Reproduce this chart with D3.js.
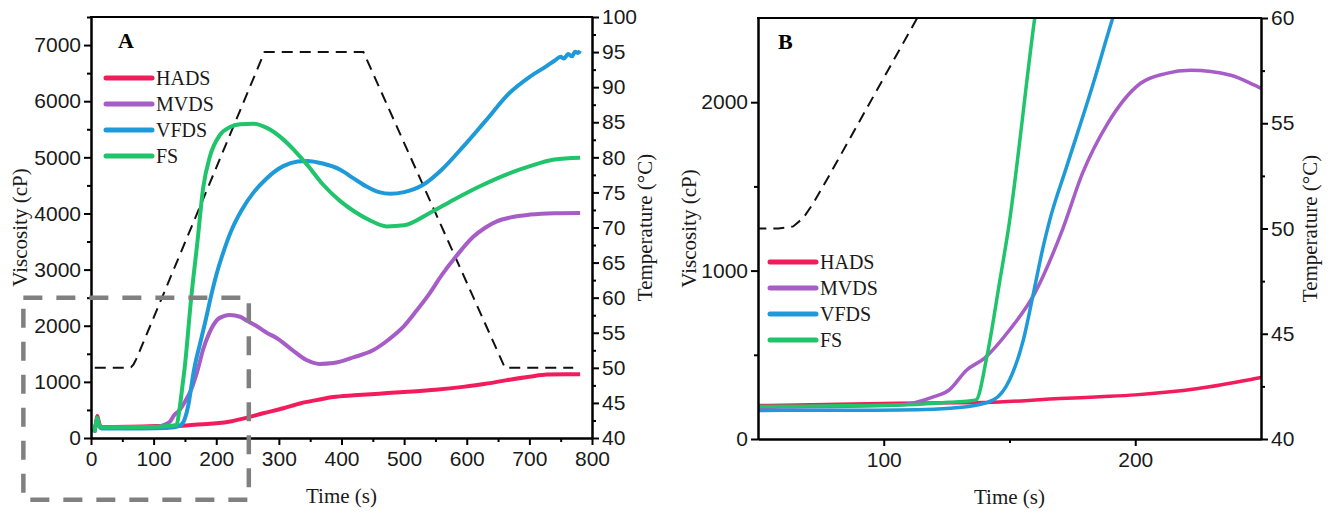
<!DOCTYPE html>
<html>
<head>
<meta charset="utf-8">
<script src="https://cdn.jsdelivr.net/npm/d3@7"></script>
<style>
body { margin: 0; background: #fff; }
svg { font-family: "Liberation Serif", "Times New Roman", serif; }
.axis path, .axis line { stroke: #000; stroke-width: 2; }
.axis text { font-size: 21px; fill: #1a1a1a; }
.title { font-size: 21px; fill: #1a1a1a; }
.legend { font-size: 20px; fill: #1a1a1a; }
</style>
</head>
<body>
<div id="chart-area"></div>
<script>
// series names and colours
var seriesNames = ["HADS", "MVDS", "VFDS", "FS"];
var seriesColours = ["#f21c5c", "#a75dc6", "#1e9ad8", "#20c46a"];

// [time (s), viscosity (cP)]
var hads = [[5,100],[8,260],[10,390],[12,310],[15,210],[20,195],[60,200],[106,212],[130,215],[146,220],[170,240],[186,251],[200,262],[225,300],[249,362],[275,440],[307,530],[335,620],[360,675],[387,730],[420,760],[460,790],[500,820],[550,860],[594,911],[630,965],[664,1031],[700,1090],[728,1130],[760,1135],[781,1135]];
var mvds = [[5,100],[8,250],[10,340],[12,260],[15,200],[20,185],[60,190],[106,202],[120,251],[126,291],[133,410],[140,479],[150,647],[160,865],[171,1241],[179,1577],[189,1873],[202,2111],[212,2170],[222,2190],[238,2160],[249,2090],[265,1990],[280,1880],[297,1776],[320,1580],[344,1389],[365,1320],[387,1335],[420,1440],[451,1567],[475,1750],[499,1983],[520,2270],[541,2580],[560,2900],[584,3250],[610,3580],[630,3750],[648,3860],[670,3930],[701,3980],[740,4005],[781,4010]];
var vfds = [[5,100],[8,240],[10,330],[12,250],[15,180],[20,168],[60,170],[106,172],[133,192],[143.6,232],[150,350],[155.5,588],[159.5,865],[163.4,1142],[166,1300],[172.7,1616],[183.3,2111],[191,2497],[200,2900],[211,3300],[225,3720],[240,4050],[260,4380],[280,4620],[307,4843],[330,4925],[345,4935],[370,4890],[398,4780],[420,4620],[440,4480],[460,4380],[478,4350],[500,4380],[531,4516],[560,4780],[595,5200],[630,5650],[669,6154],[700,6430],[728,6630],[740,6720],[750,6790],[755,6760],[762,6840],[768,6800],[773,6880],[778,6860],[781,6900]];
var fs = [[5,100],[8,270],[10,360],[12,270],[15,200],[20,190],[60,195],[106,202],[126,218],[134,226],[136.7,232],[141,489],[146.2,944],[149.5,1241],[160,2497],[170,3500],[179,4450],[190,5020],[206,5400],[222,5540],[238,5588],[259,5600],[280,5530],[307,5320],[325,5120],[345,4870],[370,4520],[398,4220],[420,4040],[445,3880],[472,3770],[500,3790],[541,4010],[580,4250],[621,4485],[660,4680],[701,4843],[740,4960],[781,4993]];

// [time (s), temperature (°C)]
var temperature = [[6,50],[58,50],[64,50.1],[68,50.5],[72,51.2],[78,52.45],[277,95],[435,95],[661,50],[770,50]];

// zoom box drawn on panel A: time range and viscosity range
var zoomBoxTime = [-108, 252];
var zoomBoxVisc = [-1100, 2500];

// ticks
var ticksTimeA = [0, 100, 200, 300, 400, 500, 600, 700, 800];
var minorTimeA = [50, 150, 250, 350, 450, 550, 650, 750];
var ticksViscA = [0, 1000, 2000, 3000, 4000, 5000, 6000, 7000];
var minorViscA = [500, 1500, 2500, 3500, 4500, 5500, 6500, 7500];
var ticksTempA = [40, 45, 50, 55, 60, 65, 70, 75, 80, 85, 90, 95, 100];
var minorTempA = [42.5, 47.5, 52.5, 57.5, 62.5, 67.5, 72.5, 77.5, 82.5, 87.5, 92.5, 97.5];

var ticksTimeB = [100, 200];
var minorTimeB = [150];
var ticksViscB = [0, 1000, 2000];
var minorViscB = [500, 1500];
var ticksTempB = [40, 45, 50, 55, 60];
var minorTempB = [42.5, 47.5, 52.5, 57.5];

var allSeries = [hads, mvds, vfds, fs];

var svg = d3.select("#chart-area").append("svg")
    .attr("width", 1333)
    .attr("height", 515);

function drawPanel(p) {
    var g = svg.append("g")
        .attr("transform", "translate(" + p.left + "," + p.top + ")");

    var x = d3.scaleLinear().domain(p.xDomain).range([0, p.width]);
    var y = d3.scaleLinear().domain(p.yDomain).range([p.height, 0]);
    var yT = d3.scaleLinear().domain(p.tDomain).range([p.height, 0]);

    g.append("clipPath").attr("id", p.id + "-clip")
        .append("rect").attr("width", p.width).attr("height", p.height);

    var plot = g.append("g").attr("clip-path", "url(#" + p.id + "-clip)");

    // temperature programme, straight segments
    var tempLine = d3.line()
        .x(function(d) { return x(d[0]); })
        .y(function(d) { return yT(d[1]); });

    plot.append("path")
        .datum(temperature)
        .attr("fill", "none")
        .attr("stroke", "#111")
        .attr("stroke-width", 2)
        .attr("stroke-dasharray", "11,7")
        .attr("d", tempLine);

    var viscLine = d3.line()
        .x(function(d) { return x(d[0]); })
        .y(function(d) { return y(d[1]); })
        .curve(d3.curveMonotoneX);

    allSeries.forEach(function(s, i) {
        plot.append("path")
            .datum(s)
            .attr("fill", "none")
            .attr("stroke", seriesColours[i])
            .attr("stroke-width", p.lineWidth)
            .attr("stroke-linejoin", "round")
            .attr("d", viscLine);
    });

    // axes
    g.append("g").attr("class", "axis")
        .attr("transform", "translate(0," + p.height + ")")
        .call(d3.axisBottom(x).tickValues(p.xMinor).tickSize(4).tickSizeOuter(0).tickFormat(""));
    g.append("g").attr("class", "axis")
        .attr("transform", "translate(0," + p.height + ")")
        .call(d3.axisBottom(x).tickValues(p.xTicks).tickSize(7).tickSizeOuter(0).tickPadding(6).tickFormat(d3.format("d")));

    g.append("g").attr("class", "axis")
        .call(d3.axisLeft(y).tickValues(p.yMinor).tickSize(4).tickSizeOuter(0).tickFormat(""));
    g.append("g").attr("class", "axis")
        .call(d3.axisLeft(y).tickValues(p.yTicks).tickSize(7).tickSizeOuter(0).tickPadding(3).tickFormat(d3.format("d")));

    g.append("g").attr("class", "axis")
        .attr("transform", "translate(" + p.width + ",0)")
        .call(d3.axisRight(yT).tickValues(p.tMinor).tickSize(4).tickSizeOuter(0).tickFormat(""));
    g.append("g").attr("class", "axis")
        .attr("transform", "translate(" + p.width + ",0)")
        .call(d3.axisRight(yT).tickValues(p.tTicks).tickSize(7).tickSizeOuter(0).tickPadding(3).tickFormat(d3.format("d")));

    g.append("line")
        .attr("x1", -1).attr("x2", p.width + 1)
        .attr("y1", 0).attr("y2", 0)
        .attr("stroke", "#000").attr("stroke-width", 2);

    // titles
    g.append("text").attr("class", "title")
        .attr("x", p.width / 2).attr("y", p.height + 65)
        .attr("text-anchor", "middle")
        .text("Time (s)");

    g.append("text").attr("class", "title")
        .attr("transform", "rotate(-90)")
        .attr("x", -p.height / 2).attr("y", p.yTitleX)
        .attr("text-anchor", "middle")
        .text("Viscosity (cP)");

    g.append("text").attr("class", "title")
        .attr("transform", "rotate(-90)")
        .attr("x", -p.height / 2).attr("y", p.width + p.tTitleX)
        .attr("text-anchor", "middle")
        .text("Temperature (°C)");

    g.append("text")
        .attr("x", p.labelX).attr("y", 31)
        .attr("font-size", "22px")
        .attr("font-weight", "bold")
        .text(p.label);

    // legend
    var legend = g.append("g")
        .attr("transform", "translate(" + p.legendX + "," + p.legendY + ")");

    seriesNames.forEach(function(name, i) {
        var row = legend.append("g")
            .attr("transform", "translate(0," + (i * 26) + ")");
        row.append("line")
            .attr("x1", 0).attr("x2", 46)
            .attr("stroke", seriesColours[i])
            .attr("stroke-width", 5)
            .attr("stroke-linecap", "round");
        row.append("text")
            .attr("class", "legend")
            .attr("x", 50).attr("dy", "0.35em")
            .text(name);
    });

    return { g: g, x: x, y: y };
}

var panelA = drawPanel({
    id: "a", left: 91, top: 17, width: 501, height: 421,
    xDomain: [0, 800], yDomain: [0, 7500], tDomain: [40, 100],
    xTicks: ticksTimeA, xMinor: minorTimeA,
    yTicks: ticksViscA, yMinor: minorViscA,
    tTicks: ticksTempA, tMinor: minorTempA,
    lineWidth: 4, label: "A", labelX: 27,
    legendX: 15, legendY: 61, yTitleX: -64, tTitleX: 60
});

// dashed grey box showing the zoomed region of panel B
panelA.g.append("rect")
    .attr("x", panelA.x(zoomBoxTime[0]))
    .attr("y", panelA.y(zoomBoxVisc[1]))
    .attr("width", panelA.x(zoomBoxTime[1]) - panelA.x(zoomBoxTime[0]))
    .attr("height", panelA.y(zoomBoxVisc[0]) - panelA.y(zoomBoxVisc[1]))
    .attr("fill", "none")
    .attr("stroke", "#808080")
    .attr("stroke-width", 4.5)
    .attr("stroke-dasharray", "19,14");

drawPanel({
    id: "b", left: 758, top: 18, width: 503, height: 421,
    xDomain: [50, 250], yDomain: [0, 2500], tDomain: [40, 60],
    xTicks: ticksTimeB, xMinor: minorTimeB,
    yTicks: ticksViscB, yMinor: minorViscB,
    tTicks: ticksTempB, tMinor: minorTempB,
    lineWidth: 3.5, label: "B", labelX: 20,
    legendX: 12, legendY: 244, yTitleX: -62, tTitleX: 56
});
</script>
</body>
</html>
